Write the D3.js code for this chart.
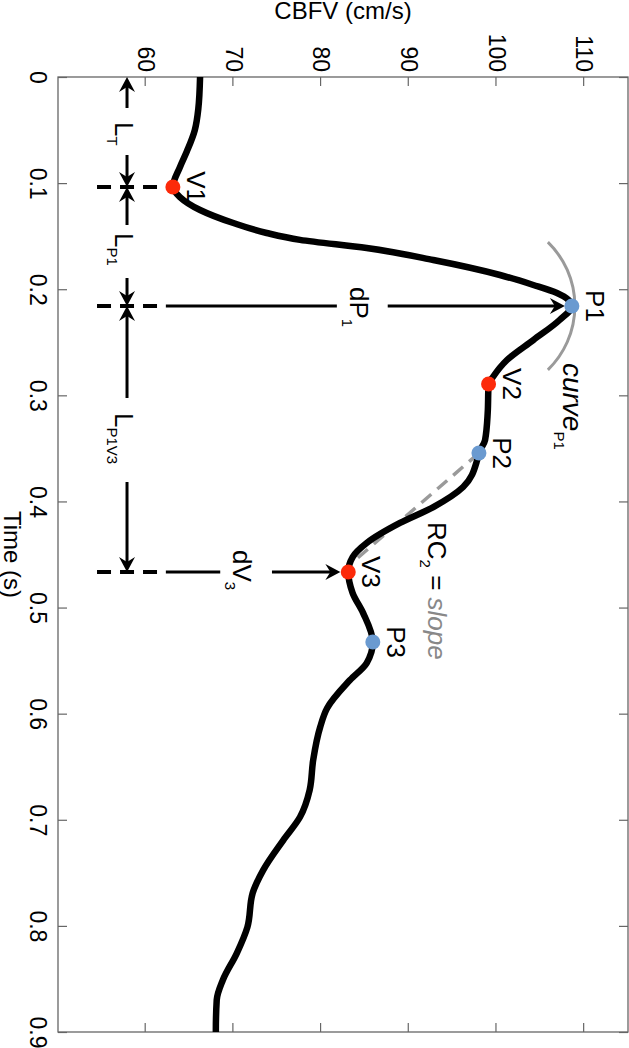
<!DOCTYPE html>
<html>
<head>
<meta charset="utf-8">
<script src="https://cdn.jsdelivr.net/npm/d3@7"></script>
<style>
  body { margin: 0; background: #fff; }
  svg { display: block; font-family: "Liberation Sans", Arial, Helvetica, sans-serif; }
</style>
</head>
<body>
<div id="chart"></div>
<script>

// CBFV waveform: time (s) and velocity (cm/s)
var timeData = [0, 0.030, 0.050, 0.070, 0.085, 0.1037, 0.1131, 0.1253, 0.1376, 0.1470,
  0.1535, 0.1612, 0.1725, 0.1866, 0.1960, 0.2036, 0.2158, 0.2290, 0.2479, 0.2667,
  0.2827, 0.2893, 0.3167, 0.3421, 0.3544, 0.3610, 0.3864, 0.4053, 0.4203, 0.4392,
  0.4524, 0.4665, 0.4863, 0.5052, 0.5325, 0.5523, 0.5683, 0.5947, 0.6126, 0.6437,
  0.6720, 0.6974, 0.7191, 0.7474, 0.7690, 0.8011, 0.8256, 0.8510, 0.8699, 0.8982, 0.9];
var cbfvData = [66.2, 66.0, 65.6, 64.7, 63.9, 63.1, 63.9, 66.2, 70.0, 73.8,
  77.6, 85.2, 92.8, 100.4, 104.2, 106.9, 108.6, 107.2, 104.2, 101.2,
  99.6, 99.1, 99.0, 98.7, 98.0, 97.8, 96.2, 92.8, 89.0, 85.2,
  83.6, 83.1, 83.6, 84.8, 85.9, 85.2, 83.3, 80.7, 79.9, 79.1,
  78.7, 77.6, 75.7, 73.4, 72.2, 71.6, 70.4, 68.8, 68.1, 68.0, 68.0];

var timeTicks = [0, 0.1, 0.2, 0.3, 0.4, 0.5, 0.6, 0.7, 0.8, 0.9];
var cbfvTicks = [60, 70, 80, 90, 100, 110];

// feature points
var pointLabels = ["V1", "P1", "V2", "P2", "V3", "P3"];
var pointTimes = [0.1037, 0.2158, 0.2893, 0.3544, 0.4665, 0.5325];
var pointCbfv = [63.1, 108.6, 99.1, 98.0, 83.1, 85.9];

var width = 629, height = 1048;
// the figure is drawn as an ordinary time / CBFV plot and then turned 90deg clockwise
var margin = {top: 1, right: 16, bottom: 58, left: 77},
  innerWidth = height - margin.left - margin.right,
  innerHeight = width - margin.top - margin.bottom;

var x = d3.scaleLinear().domain([0, 0.9]).range([0, innerWidth]);
var y = d3.scaleLinear().domain([50, 115]).range([innerHeight, 0]);

var red = "#fc2a0a", blue = "#6a9ad0", grey = "#9a9a9a";

var svg = d3.select("#chart").append("svg")
  .attr("width", width)
  .attr("height", height);

var defs = svg.append("defs");
defs.append("marker")
  .attr("id", "head")
  .attr("viewBox", "-9 -9 18 18")
  .attr("markerWidth", 18)
  .attr("markerHeight", 18)
  .attr("refX", 0)
  .attr("refY", 0)
  .attr("markerUnits", "userSpaceOnUse")
  .attr("orient", "auto")
  .append("path")
  .attr("d", "M8,0L-7,-8L-2,0L-7,8Z")
  .attr("fill", "black");

var turned = svg.append("g")
  .attr("transform", "translate(" + width + ",0) rotate(90)");
var g = turned.append("g")
  .attr("transform", "translate(" + margin.left + "," + margin.top + ")");

// axes, ticks inside on all four sides
function styleAxis(sel) {
  sel.select(".domain").remove();
  sel.selectAll(".tick line").attr("stroke", "#666").attr("stroke-width", 1.2);
  sel.selectAll(".tick text").attr("fill", "black").attr("font-size", "23px")
    .attr("font-family", "'Liberation Sans', Arial, sans-serif");
}

g.append("g")
  .attr("transform", "translate(0," + innerHeight + ")")
  .call(d3.axisBottom(x).tickValues(timeTicks).tickFormat(function(d) { return String(d); })
    .tickSize(-9).tickPadding(12))
  .call(styleAxis);
g.append("g")
  .call(d3.axisTop(x).tickValues(timeTicks).tickFormat("").tickSize(-9))
  .call(styleAxis);
g.append("g")
  .call(d3.axisLeft(y).tickValues(cbfvTicks).tickSize(-9).tickPadding(5))
  .call(styleAxis);
g.append("g")
  .attr("transform", "translate(" + innerWidth + ",0)")
  .call(d3.axisRight(y).tickValues(cbfvTicks).tickFormat("").tickSize(-9))
  .call(styleAxis);

g.append("rect")
  .attr("width", innerWidth)
  .attr("height", innerHeight)
  .attr("fill", "none")
  .attr("stroke", "#666")
  .attr("stroke-width", 1.3);

g.append("text")
  .attr("x", innerWidth / 2)
  .attr("y", 624)
  .attr("text-anchor", "middle")
  .attr("font-size", "24px")
  .text("Time (s)");

g.append("text")
  .attr("transform", "translate(" + (19 - margin.left) + "," + (innerHeight / 2) + ") rotate(-90)")
  .attr("text-anchor", "middle")
  .attr("font-size", "24px")
  .text("CBFV (cm/s)");

// annotation lines
function arrow(t1, c1, t2, c2) {
  var x1 = x(t1), y1 = y(c1), x2 = x(t2), y2 = y(c2);
  var dx = x2 - x1, dy = y2 - y1, len = Math.sqrt(dx * dx + dy * dy);
  g.append("line")
    .attr("x1", x1).attr("y1", y1)
    .attr("x2", x2 - 8 * dx / len).attr("y2", y2 - 8 * dy / len)
    .attr("stroke", "black")
    .attr("stroke-width", 3)
    .attr("marker-end", "url(#head)");
}
function segment(t1, c1, t2, c2, dashed) {
  g.append("line")
    .attr("x1", x(t1)).attr("y1", y(c1))
    .attr("x2", x(t2)).attr("y2", y(c2))
    .attr("stroke", "black")
    .attr("stroke-width", dashed ? 4 : 3)
    .attr("stroke-dasharray", dashed ? "14,9" : null);
}

var tV1 = pointTimes[0], tP1 = pointTimes[1], tV3 = pointTimes[4];
var armC = 57.87;

// L_T, L_P1, L_P1V3
arrow(0.0292, armC, 0, armC);
arrow(0.0735, armC, tV1, armC);
arrow(0.1395, armC, tV1, armC);
arrow(0.1894, armC, tP1, armC);
arrow(0.3025, armC, tP1, armC);
arrow(0.3817, armC, tV3, armC);

// dashed markers of V1, P1, V3 and the dP1 / dV3 arrows
segment(tV1, 54.45, tV1, pointCbfv[0], true);
segment(tP1, 54.45, tP1, 61.63, true);
segment(tP1, 62.3, tP1, 81.8, false);
arrow(tP1, 87.6, tP1, 107.8);
segment(tV3, 54.45, tV3, 61.63, true);
segment(tV3, 62.3, tV3, 68.5, false);
arrow(tV3, 74.4, tV3, 82.2);

// curvature arc at P1
var arcR = 89, px = x(tP1), py = y(pointCbfv[1]) + 86;
var arcPath = d3.path();
arcPath.arc(px, py, arcR, -Math.PI / 2 - 0.8, -Math.PI / 2 + 0.8);
g.append("path")
  .attr("d", arcPath.toString())
  .attr("fill", "none")
  .attr("stroke", grey)
  .attr("stroke-width", 3);

// RC2 slope line
g.append("line")
  .attr("x1", x(pointTimes[3])).attr("y1", y(pointCbfv[3]))
  .attr("x2", x(0.4552)).attr("y2", y(83.9))
  .attr("stroke", grey)
  .attr("stroke-width", 3.5)
  .attr("stroke-dasharray", "13,8");

// waveform
var line = d3.line()
  .x(function(d, i) { return x(timeData[i]); })
  .y(function(d) { return y(d); })
  .curve(d3.curveMonotoneX);

g.append("path")
  .datum(cbfvData)
  .attr("d", line)
  .attr("fill", "none")
  .attr("stroke", "black")
  .attr("stroke-width", 6.5)
  .attr("stroke-linejoin", "round");

g.selectAll(".pt")
  .data(pointLabels)
  .enter().append("circle")
  .attr("class", "pt")
  .attr("cx", function(d, i) { return x(pointTimes[i]); })
  .attr("cy", function(d, i) { return y(pointCbfv[i]); })
  .attr("r", 7.5)
  .attr("fill", function(d) { return d[0] === "V" ? red : blue; });

g.selectAll(".ptlabel")
  .data(pointLabels)
  .enter().append("text")
  .attr("class", "ptlabel")
  .attr("x", function(d, i) { return x(pointTimes[i]); })
  .attr("y", function(d, i) { return y(pointCbfv[i]) - 14; })
  .attr("text-anchor", "middle")
  .attr("font-size", "26px")
  .text(function(d) { return d; });

// text with subscripts; parts: [text, size, dy, fill, italic]
function label(t, c, parts) {
  var txt = g.append("text")
    .attr("x", x(t))
    .attr("y", y(c))
    .style("white-space", "pre");
  parts.forEach(function(p) {
    txt.append("tspan")
      .attr("font-size", p[1] + "px")
      .attr("dy", p[2])
      .attr("fill", p[3] || "black")
      .attr("font-style", p[4] ? "italic" : null)
      .text(p[0]);
  });
}

label(0.0424, 56.5, [["L", 26, 0], ["T", 15, 8]]);
label(0.1470, 56.5, [["L", 26, 0], ["P1", 15, 8]]);
label(0.3167, 56.5, [["L", 26, 0], ["P1V3", 15, 8]]);
label(0.1979, 83.3, [["dP", 26, 0], ["1", 15, 8]]);
label(0.4458, 69.96, [["dV", 26, 0], ["3", 15, 8]]);
label(0.4194, 92.19, [["RC", 26, 0], ["2", 15, 8], [" = ", 26, -8], ["slope", 26, 0, "#888", true]]);
label(0.2695, 107.59, [["curve", 28, 0, "black", true], ["P1", 15, 9]]);

</script>
</body>
</html>
